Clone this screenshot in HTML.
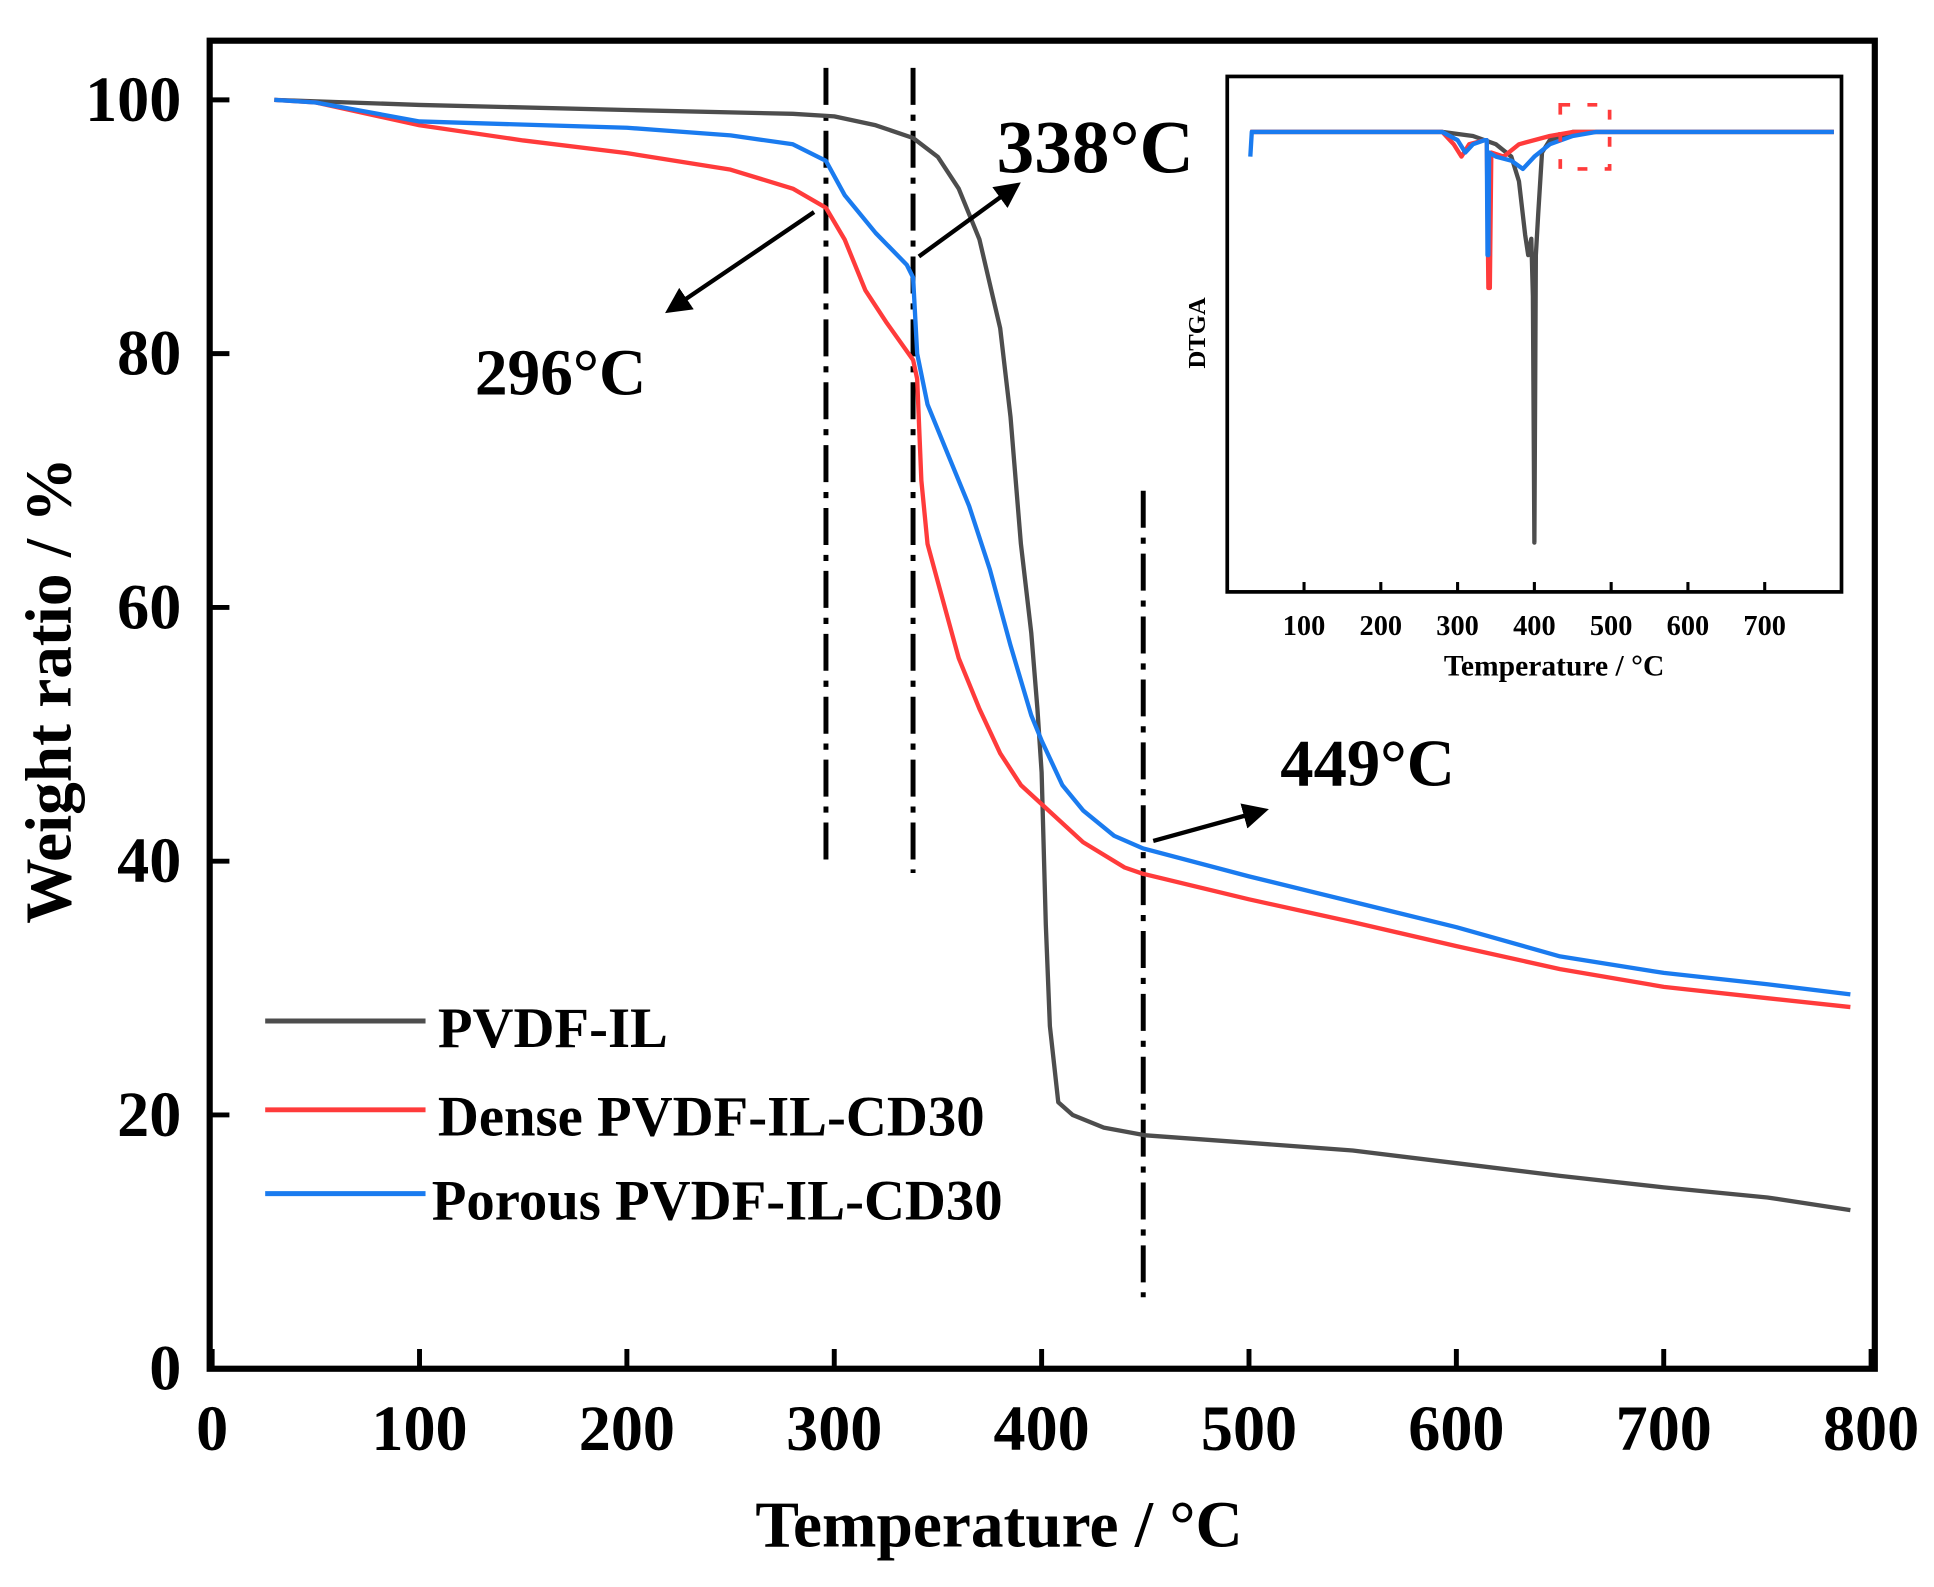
<!DOCTYPE html>
<html><head><meta charset="utf-8"><style>
html,body{margin:0;padding:0;background:#fff}
svg{display:block}
text{font-family:"Liberation Serif",serif;font-weight:bold;fill:#000}
</style></head><body>
<svg id="chart" width="1934" height="1587" viewBox="0 0 1568 1287" preserveAspectRatio="none" xmlns="http://www.w3.org/2000/svg">
<g id="main"></g>
<g id="inset"></g>
</svg>
<script>
const xTicks=[0,100,200,300,400,500,600,700,800];
const yTicks=[0,20,40,60,80,100];
const seriesNames=["PVDF-IL","Dense PVDF-IL-CD30","Porous PVDF-IL-CD30"];
const pvdfT=[30,100,200,280,300,320,338,350,360,370,380,385,390,395,398,400,402,404,406,408,415,430,450,500,550,600,650,700,750,790];
const pvdfW=[100,99.6,99.2,98.9,98.7,98.0,97.0,95.5,93,89,82,75,65,58,52,47,35,27,24,21,20,19,18.4,17.8,17.2,16.2,15.2,14.3,13.5,12.5];
const denseT=[30,50,100,150,200,250,280,296,305,315,325,338,340,342,345,350,360,370,380,390,400,420,440,449,500,550,600,650,700,750,790];
const denseW=[100,99.8,98,96.8,95.8,94.5,93,91.5,89,85,82.5,79.5,78,70,65,62,56,52,48.5,46,44.5,41.5,39.5,39,37,35.2,33.3,31.5,30.1,29.2,28.5];
const porousT=[30,50,100,200,250,280,296,305,320,335,338,340,345,355,365,375,385,395,400,410,420,435,449,500,550,600,650,700,750,790];
const porousW=[100,99.8,98.3,97.8,97.2,96.5,95.2,92.5,89.5,87,86,80,76,72,68,63,57,51.5,49.5,46,44,42,41,38.8,36.8,34.8,32.5,31.2,30.3,29.5];
const markerTemps=[296,338,449];
const insetTicks=[100,200,300,400,500,600,700];
const dPvdfT=[30,280,320,350,370,380,388,392,396,398,400,402,405,410,420,450,790];
const dPvdfV=[0,0,-1,-3,-6,-12,-25,-30,-26,-40,-100,-30,-20,-5,-2,0,0];
const dDenseT=[30,280,295,305,315,335,338,340,342,344,360,380,420,450,790];
const dDenseV=[0,0,-3,-6,-3,-2,-2,-38,-38,-5,-6,-3,-1,0,0];
const dPorousT=[30,32,280,300,310,320,335,338,339,340,341,350,370,385,400,420,450,480,790];
const dPorousV=[-6,0,0,-2,-5,-3,-2,-2,-30,-30,-5,-6,-7,-9,-6,-3,-1,0,0];

const NS="http://www.w3.org/2000/svg";
function mk(tag,attrs,parent){const e=document.createElementNS(NS,tag);for(const k in attrs)e.setAttribute(k,attrs[k]);parent.appendChild(e);return e;}
const X=t=>172+t*(1517-172)/800;
const Y=w=>1110-w*(1110-81)/100;
const main=document.getElementById('main');
const colors=["#4d4d4d","#ff3b3b","#1a7bef"];

let fr=mk('rect',{x:170,y:33,width:1350,height:1077,fill:'none',stroke:'#000','stroke-width':5},main);


xTicks.forEach(t=>{
  let l=mk('line',{x1:X(t),x2:X(t),y1:1110,y2:1094,stroke:'#000','stroke-width':4},main);
  
  
  let tx=mk('text',{x:X(t),y:1176,'text-anchor':'middle','font-size':52},main);
  tx.textContent=t;
  
  
});
yTicks.forEach(w=>{
  let l=mk('line',{x1:170,x2:186,y1:Y(w),y2:Y(w),stroke:'#000','stroke-width':4},main);
  
  
  let tx=mk('text',{x:147,y:Y(w)+17,'text-anchor':'end','font-size':52},main);
  tx.textContent=w;
  
  
});
let xt=mk('text',{x:810,y:1254,'text-anchor':'middle','font-size':53},main);
xt.textContent='Temperature / °C';


let yt=mk('text',{x:0,y:0,'text-anchor':'middle','font-size':53,transform:'translate(57,560) rotate(-90)'},main);
yt.textContent='Weight ratio / %';



const markerRanges=[[55,705],[55,708],[398,1052]];
markerTemps.forEach((t,i)=>{
  let l=mk('line',{x1:X(t),x2:X(t),y1:markerRanges[i][0],y2:markerRanges[i][1],stroke:'#000','stroke-width':4,'stroke-dasharray':'30,8,5,8'},main);
  
  
});

function path(ts,vs,xf,yf){return ts.map((t,i)=>(i?'L':'M')+xf(t).toFixed(1)+','+yf(vs[i]).toFixed(1)).join(' ');}
[[pvdfT,pvdfW],[denseT,denseW],[porousT,porousW]].forEach((s,i)=>{
  let p=mk('path',{d:path(s[0],s[1],X,Y),fill:'none',stroke:colors[i],'stroke-width':3.5,'stroke-linejoin':'round'},main);
  
  
});

const defs=mk('defs',{},document.getElementById('chart'));
const mrk=mk('marker',{id:'ah',markerWidth:6,markerHeight:6,refX:4,refY:3,orient:'auto',markerUnits:'strokeWidth'},defs);
mk('path',{d:'M0,0 L6,3 L0,6 Z',fill:'#000'},mrk);
const arrows=[[660,172,545,250],[745,208,822,152],[935,682,1022,658]];
arrows.forEach((a,i)=>{
  let l=mk('line',{x1:a[0],y1:a[1],x2:a[2],y2:a[3],stroke:'#000','stroke-width':3.5,'marker-end':'url(#ah)'},main);
  
  
});
const ann=[[385,320,53,'296°C'],[808,140,61,'338°C'],[1038,637,54,'449°C']];
ann.forEach(a=>{
  let tx=mk('text',{x:a[0],y:a[1],'font-size':a[2]},main);
  tx.textContent=a[3];
  
  
});

const legY=[828,900,968];
seriesNames.forEach((n,i)=>{
  let l=mk('line',{x1:215,x2:345,y1:legY[i],y2:legY[i],stroke:colors[i],'stroke-width':4},main);
  
  
  let tx=mk('text',{x:i==2?350:355,y:legY[i]+21,'font-size':46},main);
  tx.textContent=n;
  
  
});

const inset=document.getElementById('inset');
const IX=t=>995+t*(1493-995)/800;
const IY=v=>107-v*3.33;
let ifr=mk('rect',{x:995,y:62,width:498,height:418,fill:'#fff',stroke:'#000','stroke-width':3},inset);


insetTicks.forEach(t=>{
  let l=mk('line',{x1:IX(t),x2:IX(t),y1:480,y2:472,stroke:'#000','stroke-width':2.5},inset);
  
  
  let tx=mk('text',{x:IX(t),y:515,'text-anchor':'middle','font-size':23},inset);
  tx.textContent=t;
  
  
});
let ixt=mk('text',{x:1260,y:548,'text-anchor':'middle','font-size':24},inset);
ixt.textContent='Temperature / °C';


let iyt=mk('text',{x:0,y:0,'text-anchor':'middle','font-size':20,transform:'translate(977,270) rotate(-90)'},inset);
iyt.textContent='DTGA';


[[dPvdfT,dPvdfV],[dDenseT,dDenseV],[dPorousT,dPorousV]].forEach((s,i)=>{
  let p=mk('path',{d:path(s[0],s[1],IX,IY),fill:'none',stroke:colors[i],'stroke-width':3.5,'stroke-linejoin':'round'},inset);
  
  
});
let rb=mk('rect',{x:1265,y:85,width:40,height:52,fill:'none',stroke:'#ff3b3b','stroke-width':3,'stroke-dasharray':'8,14'},inset);


</script>
</body></html>
